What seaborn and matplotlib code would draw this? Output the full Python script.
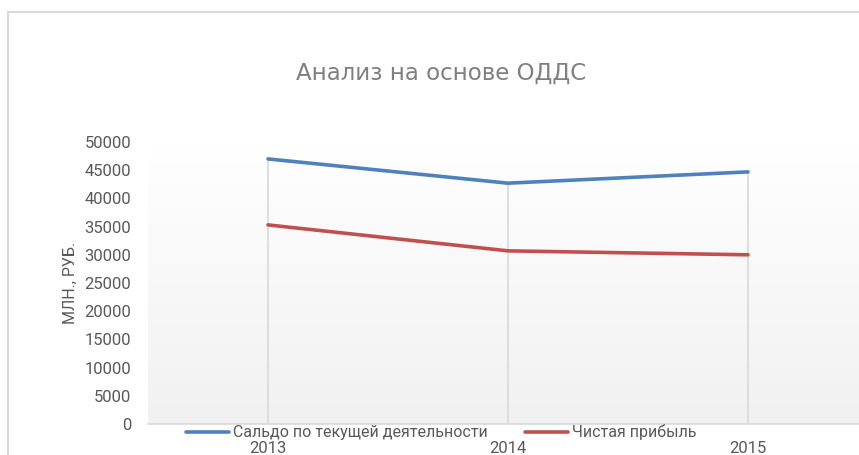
import matplotlib.pyplot as plt
import matplotlib.patches as mpatches
import pandas as pd
import numpy as np
import seaborn as sns

years = ['2013', '2014', '2015']
saldo = [47000, 42700, 44700]
profit = [35300, 30700, 30000]
series_names = ['Сальдо по текущей деятельности', 'Чистая прибыль']
yticks = list(range(0, 50001, 5000))

df = pd.DataFrame({
    'year': years * 2,
    'value': saldo + profit,
    'series': [series_names[0]] * 3 + [series_names[1]] * 3,
})

sns.set_style('white')
plt.rcParams['font.family'] = ['Roboto', 'DejaVu Sans']
TXT = '#595959'

W, H = 859, 455
fig = plt.figure(figsize=(W / 100, H / 100), dpi=100)

# chart border (cut off on right and bottom)
fig.patches.append(mpatches.Rectangle((8 / W, -0.1), 1.2, 1 - 12 / H + 0.1,
                                      transform=fig.transFigure, fill=False,
                                      edgecolor='#d9d9d9', linewidth=1.5))

ax = fig.add_axes([148 / W, 31 / H, 720 / W, 282 / H])
ax.patch.set_alpha(0)

# soft vertical gradient behind the plot: white at top, light grey at bottom
shade = np.linspace(1.0, 0.945, 256)
grad = np.dstack([shade, shade, shade]).reshape(256, 1, 3)
ax.imshow(grad, extent=[-0.5, 2.5, 0, 50000], aspect='auto', zorder=0,
          interpolation='bicubic')

# drop lines
tops = [max(a, b) for a, b in zip(saldo, profit)]
ax.vlines(range(len(years)), 0, tops, color='#d9d9d9', linewidth=1.2, zorder=1)

sns.lineplot(data=df, x='year', y='value', hue='series',
             palette=['#4f81bd', '#c0504d'], linewidth=2.6, ax=ax, zorder=3,
             sort=False)

ax.set_xlim(-0.5, 2.5)
ax.set_ylim(0, 50000)
ax.set_yticks(yticks)
ax.set_yticklabels([str(v) for v in yticks])
for s in ['top', 'right', 'left']:
    ax.spines[s].set_visible(False)
ax.spines['bottom'].set_color('#d9d9d9')
ax.spines['bottom'].set_linewidth(1.2)
ax.tick_params(axis='y', colors=TXT, labelsize=12, length=0, pad=12)
ax.tick_params(axis='x', colors=TXT, labelsize=12, length=0, pad=12.5)
ax.set_xlabel('')
ax.set_ylabel('МЛН., РУБ.', color=TXT, fontsize=11.5, labelpad=5)

fig.text(441 / W, 1 - 73 / H, 'Анализ на основе ОДДС', ha='center', va='center',
         fontsize=16.5, color='#7f7f7f', family=['DejaVu Sans'])

ax.legend(loc='center', bbox_to_anchor=(0.407, -0.03), ncol=2, frameon=False,
          fontsize=11.5, labelcolor=TXT, handlelength=2.7, handletextpad=0.25,
          columnspacing=2.35, borderaxespad=0, borderpad=0)

fig.savefig('out.png', dpi=100)
